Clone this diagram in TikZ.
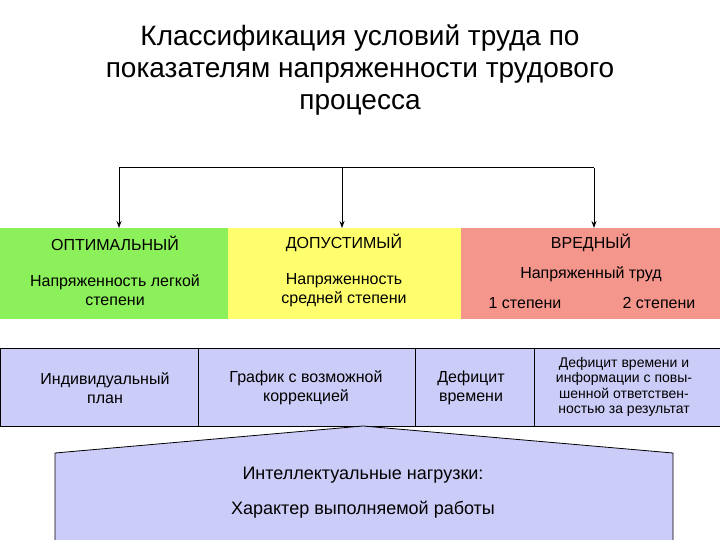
\documentclass[tikz,border=0pt]{standalone}
\usepackage{fontspec}
\usetikzlibrary{arrows.meta}
\setmainfont{Liberation Sans}
\definecolor{cgreen}{RGB}{140,240,90}
\definecolor{cyellow}{RGB}{255,255,110}
\definecolor{cred}{RGB}{245,150,140}
\definecolor{cblue}{RGB}{204,204,248}
\begin{document}
\begin{tikzpicture}[x=1pt,y=-1pt,
  lbl/.style={align=center,font=\fontsize{16}{19}\selectfont},
  cell/.style={draw=black,line width=0.8pt,fill=cblue},
  arr/.style={-{Stealth[length=7pt,width=5pt]},line width=1pt}]
\useasboundingbox (0,0) rectangle (720,540);
\fill[white] (0,0) rectangle (720,540);
\node[align=center,font=\fontsize{28}{32}\selectfont] (title) at (360,70)
  {Классификация условий труда по\\показателям напряженности трудового\\процесса};
\fill[cgreen] (0,228) rectangle (228,319);
\fill[cyellow] (228,228) rectangle (461,319);
\fill[cred] (461,228) rectangle (720,319);
\coordinate (g) at (119,228); \coordinate (y) at (342,228); \coordinate (r) at (594,228);
\coordinate (tl) at (119,168); \coordinate (top) at (342,168); \coordinate (tr) at (594,168);
\node[lbl] (o1) at (115,243) {ОПТИМАЛЬНЫЙ};
\node[lbl] (o2) at (115,290) {Напряженность легкой\\степени};
\node[lbl] (d1) at (344,243) {ДОПУСТИМЫЙ};
\node[lbl] (d2) at (344,290) {Напряженность\\средней степени};
\node[lbl] (v1) at (591,243) {ВРЕДНЫЙ};
\node[lbl] (v2) at (591,274) {Напряженный труд};
\node[lbl] (v3) at (525,303) {1 степени};
\node[lbl] (v4) at (659,303) {2 степени};
\draw[line width=1pt] (tl) -- (tr);
\draw[arr] (tl) -- (g);
\draw[arr] (top) -- (y);
\draw[arr] (tr) -- (r);
\draw[cell] (0,348) rectangle (198,426);
\draw[cell] (198,348) rectangle (415,426);
\draw[cell] (415,348) rectangle (534,426);
\draw[cell] (534,348) rectangle (720,426);
\node[lbl] (b1) at (105,388) {Индивидуальный\\план};
\node[lbl] (b2) at (306,388) {График с возможной\\коррекцией};
\node[lbl] (b3) at (471,388) {Дефицит\\времени};
\node[align=center,font=\fontsize{14}{15.5}\selectfont] (b4) at (624,387)
  {Дефицит времени и\\информации с повы-\\шенной ответствен-\\ностью за результат};
\draw[cell] (55,541) -- (55,453) -- (363,426) -- (673,453) -- (673,541);
\node[font=\fontsize{18}{22}\selectfont] (p1) at (363,475) {Интеллектуальные нагрузки:};
\node[font=\fontsize{18}{22}\selectfont] (p2) at (363,510) {Характер выполняемой работы};
\end{tikzpicture}
\end{document}
